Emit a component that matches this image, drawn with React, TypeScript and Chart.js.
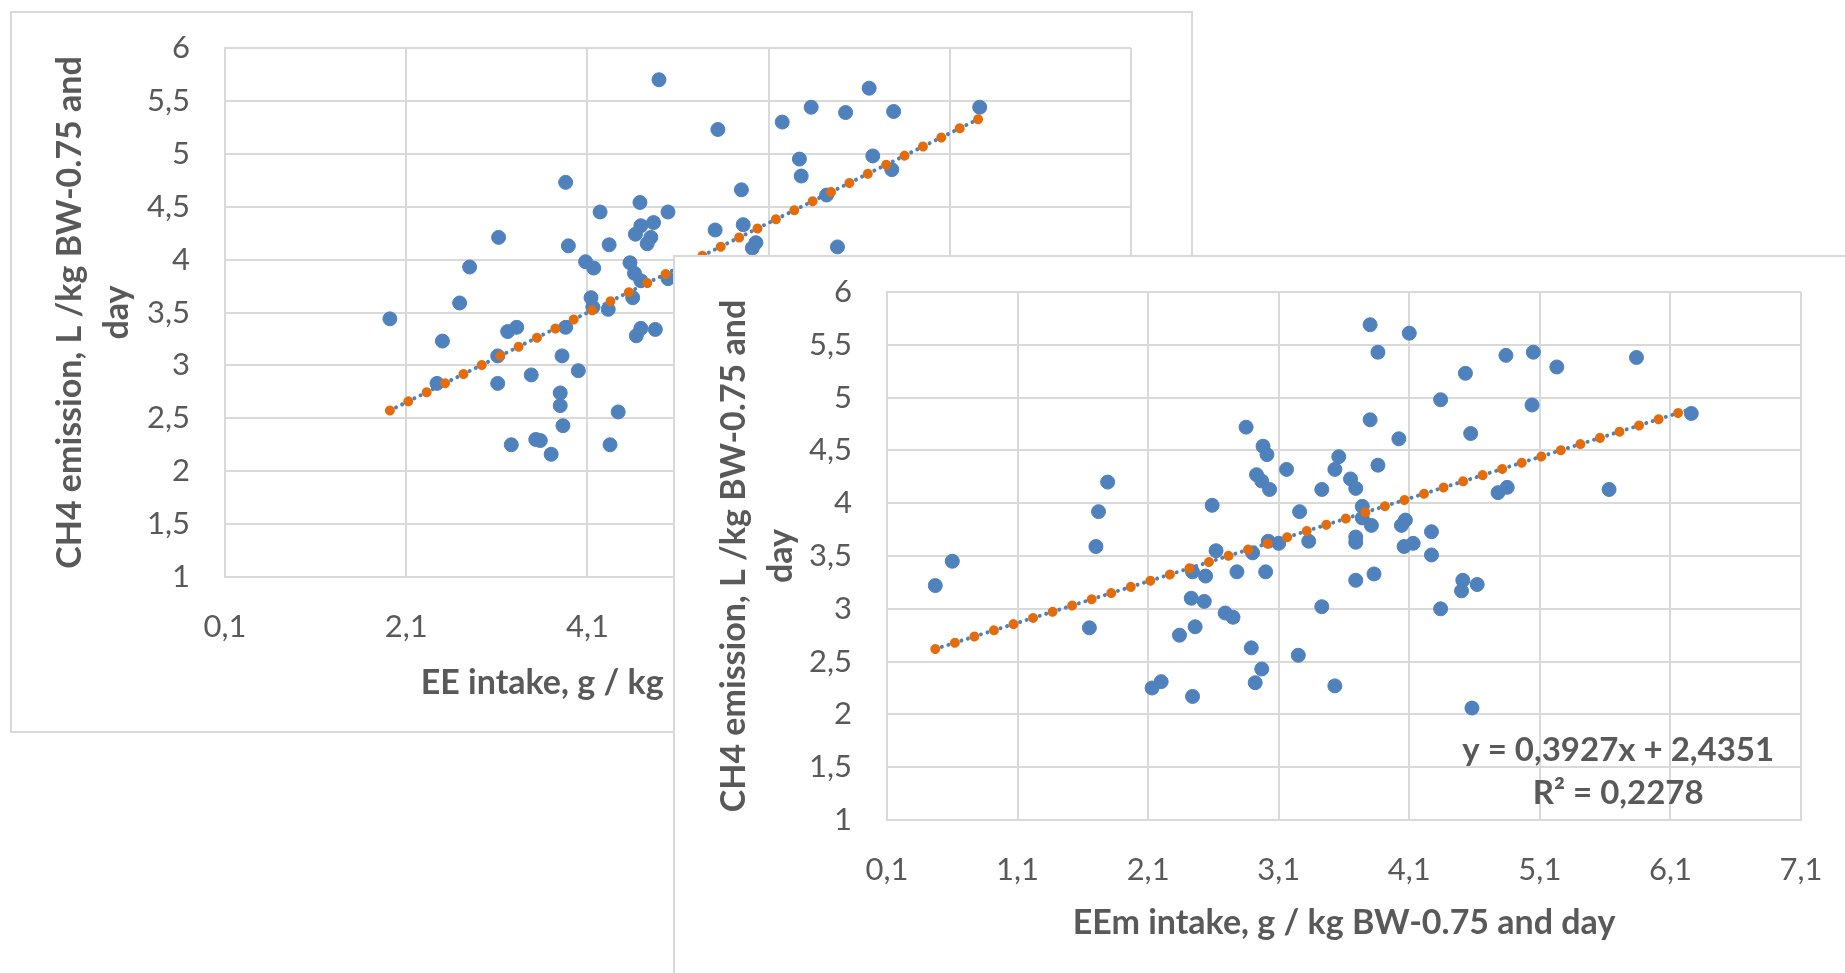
import React, { useEffect, useRef } from 'react';
import { Chart, registerables } from 'chart.js';

Chart.register(...registerables);

const FONT = 'Lato';
const TEXT = '#595959';
const GRID = '#D9D9D9';
const BLUE = '#4F81BD';
const ORANGE = '#E46C0A';

// ---- Chart 1 (back): EE intake ----
const eeIntake = [1.92, 2.50, 2.69, 2.80, 3.12, 2.44, 3.11, 3.11, 3.22, 3.32, 3.48, 3.26, 3.53, 3.58, 3.70, 3.83, 3.80, 3.80, 3.82, 3.86, 4.00, 3.86, 3.89, 4.08, 4.17, 4.14, 4.16, 4.33, 4.24, 4.34, 4.44, 4.35, 4.57, 4.62, 4.69, 4.60, 4.68, 4.69, 4.83, 4.63, 4.80, 4.76, 4.99, 4.64, 4.69, 4.85, 4.89, 4.99, 5.54, 6.25, 6.57, 6.44, 6.46, 5.80, 5.51, 5.82, 5.96, 5.92, 7.21, 6.95, 7.48, 8.43, 7.25, 7.46, 6.74, 6.86];
const ch4Emission1 = [3.44, 3.23, 3.59, 3.93, 4.21, 2.83, 3.09, 2.83, 3.32, 3.36, 2.91, 2.25, 2.30, 2.29, 2.16, 2.43, 2.62, 2.74, 3.09, 3.36, 2.95, 4.73, 4.13, 3.98, 3.92, 3.64, 3.55, 3.53, 4.45, 4.14, 2.56, 2.25, 3.97, 3.87, 3.80, 3.64, 4.54, 4.32, 4.35, 4.24, 4.21, 4.15, 4.45, 3.28, 3.35, 3.34, 5.70, 3.82, 5.23, 5.30, 5.44, 4.95, 4.79, 4.66, 4.28, 4.33, 4.16, 4.11, 5.62, 5.39, 5.40, 5.44, 4.98, 4.85, 4.61, 4.12];
const xTicks1 = [0.1, 2.1, 4.1, 6.1, 8.1, 10.1];
const trendCoef1 = [0.424, 1.76];
const trendRange1 = [1.92, 8.43];

// ---- Chart 2 (front): EEm intake ----
const eemIntake = [0.47, 0.60, 1.79, 1.72, 1.70, 1.65, 2.13, 2.20, 2.44, 2.34, 2.46, 2.43, 2.53, 2.44, 2.54, 2.59, 2.62, 2.69, 2.75, 2.78, 2.85, 2.98, 3.01, 2.93, 2.97, 3.03, 3.16, 2.89, 2.97, 2.92, 2.90, 3.02, 3.10, 3.00, 3.25, 3.26, 3.33, 3.43, 3.43, 3.53, 3.56, 3.53, 3.65, 3.69, 3.74, 3.74, 3.81, 3.69, 3.69, 3.69, 3.83, 3.80, 3.86, 4.10, 3.80, 4.02, 3.86, 4.07, 4.04, 4.06, 4.13, 4.34, 4.53, 4.84, 5.05, 5.23, 5.84, 5.04, 4.57, 4.78, 4.85, 5.63, 6.26, 4.27, 4.27, 4.34, 4.51, 4.50, 4.62, 4.58];
const ch4Emission2 = [3.22, 3.45, 4.20, 3.92, 3.59, 2.82, 2.25, 2.31, 2.17, 2.75, 2.83, 3.10, 3.07, 3.35, 3.31, 3.98, 3.55, 2.96, 2.92, 3.35, 4.72, 4.54, 4.46, 4.27, 4.21, 4.13, 4.32, 2.63, 2.43, 2.30, 3.53, 3.64, 3.62, 3.35, 2.56, 3.92, 3.64, 4.13, 3.02, 2.27, 4.44, 4.32, 4.23, 4.14, 3.97, 3.86, 3.79, 3.68, 3.63, 3.27, 3.33, 5.69, 5.43, 5.61, 4.79, 4.61, 4.36, 3.84, 3.79, 3.59, 3.62, 4.98, 5.23, 5.40, 5.43, 5.29, 5.38, 4.93, 4.66, 4.10, 4.15, 4.13, 4.85, 3.73, 3.51, 3.00, 3.27, 3.17, 3.23, 2.06];
const xTicks2 = [0.1, 1.1, 2.1, 3.1, 4.1, 5.1, 6.1, 7.1];
const trendCoef2 = [0.3927, 2.4351];
const trendRange2 = [0.47, 6.26];
const equationLines = ['y = 0,3927x + 2,4351', 'R² = 0,2278'];
const equationAnchor = [5.7, 1.66];

const yTicks = [1, 1.5, 2, 2.5, 3, 3.5, 4, 4.5, 5, 5.5, 6];
const yTitle = ['CH4 emission, L /kg BW-0.75 and', 'day'];
const xTitle1 = 'EE intake, g / kg BW-0.75 and day';
const xTitle2 = 'EEm intake, g / kg BW-0.75 and day';

const fmt = (v: number) => String(Math.round(v * 10) / 10).replace('.', ',');

type Opts = {
  xs: number[];
  ys: number[];
  xTicks: number[];
  trendCoef: number[];
  trendRange: number[];
  xTitle: string;
  padding: { top: number; right: number; bottom: number; left: number };
  yAxisWidth: number;
  xAxisHeight: number;
  yTitlePad: number;
  equation?: boolean;
};

function buildConfig(o: Opts): any {
  const trendPts = o.trendRange.map((x) => ({ x, y: o.trendCoef[0] * x + o.trendCoef[1] }));
  const pts = o.xs.map((x, i) => ({ x, y: o.ys[i] }));
  const plugins: any[] = [];
  if (o.equation) {
    plugins.push({
      id: 'trendEquation',
      afterDatasetsDraw(chart: any) {
        const { ctx, scales } = chart;
        const px = scales.x.getPixelForValue(equationAnchor[0]);
        const py = scales.y.getPixelForValue(equationAnchor[1]);
        ctx.save();
        ctx.font = `bold 33px ${FONT}`;
        ctx.fillStyle = TEXT;
        ctx.textAlign = 'center';
        ctx.textBaseline = 'middle';
        equationLines.forEach((t, i) => ctx.fillText(t, px, py + i * 43));
        ctx.restore();
      },
    });
  }
  return {
    type: 'scatter',
    data: {
      datasets: [
        {
          data: trendPts,
          showLine: true,
          borderColor: ORANGE,
          borderWidth: 10,
          borderDash: [0.01, 20.5],
          borderCapStyle: 'round',
          pointRadius: 0,
          fill: false,
        },
        {
          data: trendPts,
          showLine: true,
          borderColor: BLUE,
          borderWidth: 4,
          borderDash: [0.01, 20.5 / 3],
          borderCapStyle: 'round',
          pointRadius: 0,
          fill: false,
        },
        {
          data: pts,
          showLine: false,
          pointBackgroundColor: BLUE,
          pointBorderColor: BLUE,
          pointBorderWidth: 1,
          pointRadius: 7,
        },
      ],
    },
    options: {
      animation: false,
      responsive: true,
      maintainAspectRatio: false,
      events: [],
      layout: { padding: o.padding },
      plugins: { legend: { display: false }, tooltip: { enabled: false } },
      scales: {
        x: {
          type: 'linear',
          min: o.xTicks[0],
          max: o.xTicks[o.xTicks.length - 1],
          afterBuildTicks: (s: any) => {
            s.ticks = o.xTicks.map((v) => ({ value: v }));
          },
          afterFit: (s: any) => {
            s.height = o.xAxisHeight;
            s.paddingLeft = 0;
            s.paddingRight = 0;
          },
          grid: { color: GRID, lineWidth: 2, drawTicks: false },
          border: { color: GRID, width: 2 },
          ticks: {
            autoSkip: false,
            maxRotation: 0,
            padding: 31,
            color: TEXT,
            font: { family: FONT, size: 31 },
            callback: (v: any) => fmt(Number(v)),
          },
          title: {
            display: true,
            text: o.xTitle,
            color: TEXT,
            font: { family: FONT, size: 34, weight: 'bold', lineHeight: 1.2 },
            padding: { top: 0, bottom: 0 },
          },
        },
        y: {
          type: 'linear',
          min: 1,
          max: 6,
          afterBuildTicks: (s: any) => {
            s.ticks = yTicks.map((v) => ({ value: v }));
          },
          afterFit: (s: any) => {
            s.width = o.yAxisWidth;
            s.paddingTop = 0;
            s.paddingBottom = 0;
          },
          grid: { color: GRID, lineWidth: 2, drawTicks: false },
          border: { color: GRID, width: 2 },
          ticks: {
            autoSkip: false,
            padding: 35,
            color: TEXT,
            font: { family: FONT, size: 31 },
            callback: (v: any) => fmt(Number(v)),
          },
          title: {
            display: true,
            text: yTitle,
            color: TEXT,
            font: { family: FONT, size: 34, weight: 'bold', lineHeight: 1.4 },
            padding: { top: o.yTitlePad, bottom: 0 },
          },
        },
      },
    },
    plugins,
  };
}

export default function App() {
  const ref1 = useRef<HTMLCanvasElement>(null);
  const ref2 = useRef<HTMLCanvasElement>(null);

  useEffect(() => {
    const c1 = new Chart(
      ref1.current as HTMLCanvasElement,
      buildConfig({
        xs: eeIntake,
        ys: ch4Emission1,
        xTicks: xTicks1,
        trendCoef: trendCoef1,
        trendRange: trendRange1,
        xTitle: xTitle1,
        padding: { top: 35, right: 60, bottom: 28, left: 0 },
        yAxisWidth: 213,
        xAxisHeight: 126,
        yTitlePad: 34,
      })
    );
    const c2 = new Chart(
      ref2.current as HTMLCanvasElement,
      buildConfig({
        xs: eemIntake,
        ys: ch4Emission2,
        xTicks: xTicks2,
        trendCoef: trendCoef2,
        trendRange: trendRange2,
        xTitle: xTitle2,
        padding: { top: 35, right: 60, bottom: 50, left: 0 },
        yAxisWidth: 212,
        xAxisHeight: 123,
        yTitlePad: 35,
        equation: true,
      })
    );
    return () => {
      c1.destroy();
      c2.destroy();
    };
  }, []);

  const frame: React.CSSProperties = {
    position: 'absolute',
    boxSizing: 'border-box',
    border: `2px solid ${GRID}`,
    background: '#ffffff',
  };

  return (
    <div
      style={{
        position: 'fixed',
        left: 0,
        top: 0,
        width: 1845,
        height: 973,
        overflow: 'hidden',
        background: '#ffffff',
      }}
    >
      <div style={{ ...frame, left: 10, top: 11, width: 1183, height: 722 }}>
        <div style={{ position: 'relative', width: '100%', height: '100%' }}>
          <canvas ref={ref1} />
        </div>
      </div>
      <div style={{ ...frame, left: 673, top: 255, width: 1190, height: 740 }}>
        <div style={{ position: 'relative', width: '100%', height: '100%' }}>
          <canvas ref={ref2} />
        </div>
      </div>
    </div>
  );
}
